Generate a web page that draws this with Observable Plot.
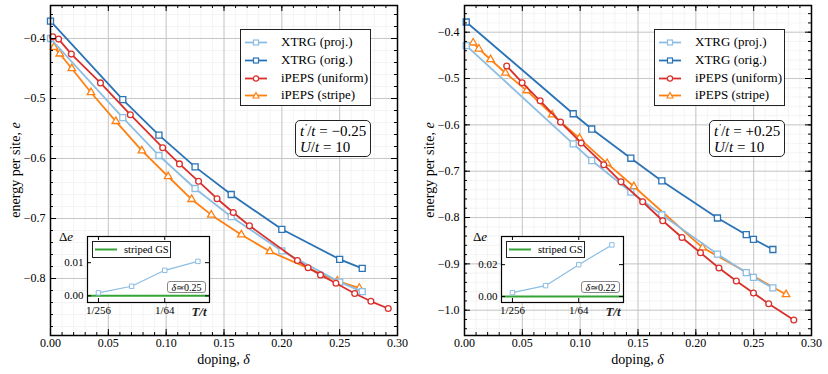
<!DOCTYPE html>
<html><head><meta charset="utf-8">
<script src="https://cdn.jsdelivr.net/npm/d3@7"></script>
<script src="https://cdn.jsdelivr.net/npm/@observablehq/plot@0.6"></script>
<style>
body{margin:0;background:white;}
#root{position:relative;width:828px;height:374px;font-family:"Liberation Serif",serif;color:black;overflow:hidden;}
.abs{position:absolute;}
.legend{position:absolute;background:white;border:1.3px solid #222;box-sizing:border-box;font-size:13px;}
.legend .row{position:absolute;left:0;height:18px;line-height:18px;white-space:nowrap;}
.legend svg{position:absolute;left:4px;top:4px;}
.legend span{position:absolute;left:40px;top:0;}
.note{position:absolute;background:white;border:1.3px solid #222;border-radius:5px;box-sizing:border-box;font-size:15px;line-height:16px;padding:2px 0 0 4px;white-space:nowrap;}
.ilegend{position:absolute;background:white;border:1px solid #222;box-sizing:border-box;font-size:10.5px;white-space:nowrap;}
.dbox{position:absolute;background:white;border:1px solid #888;border-radius:3px;box-sizing:border-box;font-size:10px;line-height:11px;text-align:center;white-space:nowrap;}
</style></head>
<body><div id="root"></div>
<script>
// ---------- data ----------
const colProj = "#8cbde3", colOrig = "#2b73b5", colUnif = "#d8302c", colStripe = "#ff8012", colGS = "#35a436";

const seriesNames = ["XTRG (proj.)", "XTRG (orig.)", "iPEPS (uniform)", "iPEPS (stripe)"];

// left panel t'/t = -0.25
const L_xtrg_x   = [0.0, 0.0625, 0.09375, 0.125, 0.15625, 0.2, 0.25, 0.2695];
const L_proj_e   = [-0.400, -0.532, -0.595, -0.650, -0.697, -0.754, -0.806, -0.822];
const L_orig_e   = [-0.371, -0.502, -0.561, -0.614, -0.660, -0.718, -0.768, -0.783];
const L_unif_x   = [0.002, 0.007, 0.018, 0.0432, 0.069, 0.097, 0.1115, 0.128, 0.144, 0.158, 0.172, 0.2135, 0.2227, 0.2334, 0.2468, 0.263, 0.277, 0.292];
const L_unif_e   = [-0.397, -0.401, -0.426, -0.474, -0.527, -0.582, -0.609, -0.638, -0.667, -0.690, -0.712, -0.770, -0.782, -0.794, -0.808, -0.825, -0.838, -0.850];
const L_stripe_x = [0.003, 0.008, 0.0184, 0.035, 0.0565, 0.079, 0.1017, 0.122, 0.139, 0.165, 0.1897, 0.248, 0.267];
const L_stripe_e = [-0.4145, -0.4255, -0.450, -0.490, -0.538, -0.587, -0.630, -0.668, -0.694, -0.727, -0.755, -0.804, -0.816];

// right panel t'/t = +0.25
const R_xtrg_x   = [0.0015, 0.094, 0.110, 0.1438, 0.1706, 0.2187, 0.2436, 0.2498, 0.2666];
const R_proj_e   = [-0.429, -0.641, -0.677, -0.745, -0.794, -0.879, -0.919, -0.929, -0.952];
const R_orig_e   = [-0.378, -0.576, -0.609, -0.672, -0.721, -0.801, -0.837, -0.847, -0.869];
const R_unif_x   = [0.0365, 0.0498, 0.0654, 0.083, 0.1009, 0.1204, 0.1353, 0.154, 0.1714, 0.188, 0.204, 0.2200, 0.235, 0.2498, 0.263, 0.2847];
const R_unif_e   = [-0.473, -0.509, -0.548, -0.594, -0.639, -0.686, -0.723, -0.766, -0.807, -0.843, -0.876, -0.909, -0.937, -0.963, -0.986, -1.021];
const R_stripe_x = [0.0075, 0.0124, 0.0225, 0.0354, 0.0539, 0.0758, 0.0994, 0.1233, 0.1464, 0.2058, 0.278];
const R_stripe_e = [-0.423, -0.436, -0.459, -0.488, -0.526, -0.578, -0.629, -0.683, -0.733, -0.865, -0.966];

// insets: energy difference vs temperature
const inset_T   = [1/256, 1/128, 1/64, 1/32];
const L_inset_de = [0.0009, 0.0029, 0.0077, 0.0104];
const R_inset_de = [0.0024, 0.0068, 0.0200, 0.0324];
const insetTickVals = [1/256, 1/64];
const insetTickLabels = ["1/256", "1/64"];

// tick labels / positions
const xMajor = [0, 0.05, 0.10, 0.15, 0.20, 0.25, 0.30];
const L_yMajor = [-0.8, -0.7, -0.6, -0.5, -0.4];
const R_yMajor = [-1.0, -0.9, -0.8, -0.7, -0.6, -0.5, -0.4];

// ---------- drawing ----------
const zip = (xs, ys) => xs.map((x, i) => ({x, e: ys[i]}));
const root = document.getElementById("root");

function panel(cfg) {
  const W = 414, H = 374, mt = 5, mb = 39, ml = 50, mr = 17;
  const iw = W - ml - mr, ih = H - mt - mb;
  const xMinor = d3.range(0, 0.3001, 0.01);
  const yMinor = d3.range(cfg.yMinorStart, cfg.yDomain[1], 0.02);
  const series = [
    {d: zip(cfg.stripeX, cfg.stripeE), c: colStripe, s: "triangle", r: 2.8},
    {d: zip(cfg.xtrgX, cfg.projE), c: colProj, s: "square", r: 3.4},
    {d: zip(cfg.xtrgX, cfg.origE), c: colOrig, s: "square", r: 3.4},
    {d: zip(cfg.unifX, cfg.unifE), c: colUnif, s: "circle", r: 2.9}
  ];
  const marks = [
    Plot.gridX(xMinor, {stroke: "#ececec", strokeOpacity: 1, strokeWidth: 0.6}),
    Plot.gridY(yMinor, {stroke: "#ececec", strokeOpacity: 1, strokeWidth: 0.6}),
    Plot.gridX(xMajor, {stroke: "#c2c2c2", strokeOpacity: 1, strokeWidth: 0.9}),
    Plot.gridY(cfg.yMajor, {stroke: "#c2c2c2", strokeOpacity: 1, strokeWidth: 0.9})
  ];
  for (const s of series) {
    marks.push(Plot.line(s.d, {x: "x", y: "e", stroke: s.c, strokeWidth: 1.8}));
    marks.push(Plot.dot(s.d, {x: "x", y: "e", symbol: s.s, r: s.r, stroke: s.c, fill: "white", strokeWidth: 1.3}));
  }
  const tk = {stroke: "black", strokeWidth: 1};
  marks.push(
    Plot.tickX(xMajor, {x: d => d, insetTop: ih - 6, ...tk}),
    Plot.tickX(xMajor, {x: d => d, insetBottom: ih - 6, ...tk}),
    Plot.tickX(xMinor, {x: d => d, insetTop: ih - 3, ...tk}),
    Plot.tickX(xMinor, {x: d => d, insetBottom: ih - 3, ...tk}),
    Plot.tickY(cfg.yMajor, {y: d => d, insetRight: iw - 6, ...tk}),
    Plot.tickY(cfg.yMajor, {y: d => d, insetLeft: iw - 6, ...tk}),
    Plot.tickY(yMinor, {y: d => d, insetRight: iw - 3, ...tk}),
    Plot.tickY(yMinor, {y: d => d, insetLeft: iw - 3, ...tk}),
    Plot.frame({stroke: "black", strokeWidth: 1.5}),
    Plot.axisX({ticks: xMajor, tickSize: 0, tickPadding: 3, tickFormat: d3.format(".2f"), label: null}),
    Plot.axisY({ticks: cfg.yMajor, tickSize: 0, tickPadding: 5, tickFormat: d3.format(".1f"), label: null})
  );
  const svg = Plot.plot({
    width: W, height: H, marginTop: mt, marginBottom: mb, marginLeft: ml, marginRight: mr,
    x: {domain: [0, 0.30]},
    y: {domain: cfg.yDomain},
    style: {fontFamily: "Liberation Serif", fontSize: "12px", color: "black", background: "white"},
    marks
  });
  const g = d3.select(svg);
  const xl = g.append("text").attr("x", ml + iw / 2).attr("y", 364).attr("text-anchor", "middle")
    .attr("font-size", 14).attr("fill", "black");
  xl.append("tspan").text("doping, ");
  xl.append("tspan").attr("font-style", "italic").text("δ");
  const yl = g.append("text").attr("transform", `translate(20,${mt + ih / 2}) rotate(-90)`).attr("text-anchor", "middle")
    .attr("font-size", 14).attr("fill", "black");
  yl.append("tspan").text("energy per site, ");
  yl.append("tspan").attr("font-style", "italic").text("e");
  const wrap = document.createElement("div");
  wrap.className = "abs";
  wrap.style.left = cfg.left + "px"; wrap.style.top = "0px";
  wrap.appendChild(svg);
  root.appendChild(wrap);
}

function inset(cfg) {
  const W = 190, H = 100, ml = 41, mr = 27, mt = 14, mb = 20;
  const data = inset_T.map((T, i) => ({T, de: cfg.de[i]}));
  const iw = W - ml - mr, ih = H - mt - mb;
  const tk = {stroke: "black", strokeWidth: 1};
  const svg = Plot.plot({
    width: W, height: H, marginTop: mt, marginBottom: mb, marginLeft: ml, marginRight: mr,
    x: {type: "log", base: 2, domain: [Math.pow(2, -8.33), Math.pow(2, -4.65)]},
    y: {domain: cfg.yDomain},
    style: {fontFamily: "Liberation Serif", fontSize: "11px", color: "black", background: "transparent"},
    marks: [
      Plot.frame({fill: "white"}),
      Plot.ruleY([0], {stroke: colGS, strokeWidth: 2}),
      Plot.line(data, {x: "T", y: "de", stroke: colProj, strokeWidth: 1.2}),
      Plot.dot(data, {x: "T", y: "de", symbol: "square", r: 2.5, stroke: colProj, fill: "white", strokeWidth: 1}),
      Plot.tickX(insetTickVals, {x: d => d, insetTop: ih - 4, ...tk}),
      Plot.tickX(insetTickVals, {x: d => d, insetBottom: ih - 4, ...tk}),
      Plot.tickY(cfg.yTicks, {y: d => d, insetRight: iw - 4, ...tk}),
      Plot.tickY(cfg.yTicks, {y: d => d, insetLeft: iw - 4, ...tk}),
      Plot.frame({stroke: "black", strokeWidth: 1.2}),
      Plot.axisX({ticks: insetTickVals, tickFormat: d => insetTickLabels[insetTickVals.indexOf(d)], tickSize: 0, tickPadding: 4, label: null}),
      Plot.axisY({ticks: cfg.yTicks, tickFormat: d3.format(".2f"), tickSize: 0, tickPadding: 4, label: null})
    ]
  });
  const g = d3.select(svg);
  const de = g.append("text").attr("x", 20).attr("y", 18.5).attr("font-size", 13).attr("fill", "black");
  de.append("tspan").text("Δ");
  de.append("tspan").attr("font-style", "italic").text("e");
  g.append("text").attr("x", 153).attr("y", 94).attr("font-size", 13).attr("font-style", "italic")
    .attr("font-weight", "bold").attr("fill", "#222").text("T/t");
  const wrap = document.createElement("div");
  wrap.className = "abs";
  wrap.style.left = (cfg.left + 46) + "px"; wrap.style.top = "222px";
  wrap.appendChild(svg);
  root.appendChild(wrap);

  // inset legend
  const il = document.createElement("div");
  il.className = "ilegend";
  Object.assign(il.style, {left: (cfg.left + 92) + "px", top: "241px", width: "79px", height: "17px"});
  il.innerHTML = `<svg width="24" height="15" style="position:absolute;left:2px;top:0px"><line x1="0" y1="7.5" x2="22" y2="7.5" stroke="${colGS}" stroke-width="2"/></svg>` +
    `<span style="position:absolute;left:31px;top:1px;line-height:13px">striped GS</span>`;
  root.appendChild(il);

  // delta box
  const db = document.createElement("div");
  db.className = "dbox";
  Object.assign(db.style, {left: (cfg.left + 167) + "px", top: "281px", width: "39px", height: "12px"});
  db.innerHTML = `<i>δ</i>≃${cfg.dlabel}`;
  root.appendChild(db);
}

function legend(left) {
  const el = document.createElement("div");
  el.className = "legend";
  Object.assign(el.style, {left: left + "px", top: "29px", width: "131px", height: "77px"});
  const items = [
    {c: colProj, s: "square"}, {c: colOrig, s: "square"}, {c: colUnif, s: "circle"}, {c: colStripe, s: "triangle"}
  ];
  let html = "";
  items.forEach((it, i) => {
    let m;
    if (it.s === "square") m = `<rect x="8.5" y="2" width="5" height="5" fill="white" stroke="${it.c}" stroke-width="1.2"/>`;
    else if (it.s === "circle") m = `<circle cx="11" cy="4.5" r="2.6" fill="white" stroke="${it.c}" stroke-width="1.2"/>`;
    else m = `<path d="M11,1.5L14,7L8,7Z" fill="white" stroke="${it.c}" stroke-width="1.2"/>`;
    html += `<div class="row" style="top:${3 + i * 17.8}px;width:100%">` +
      `<svg width="24" height="9" style="top:5px"><line x1="0" y1="4.5" x2="22" y2="4.5" stroke="${it.c}" stroke-width="1.8"/>${m}</svg>` +
      `<span>${seriesNames[i]}</span></div>`;
  });
  el.innerHTML = html;
  root.appendChild(el);
}

function note(left, tp) {
  const el = document.createElement("div");
  el.className = "note";
  Object.assign(el.style, {left: left + "px", top: "120px", width: "76px", height: "37px"});
  el.innerHTML = `<i>t</i><sup style="font-size:9px;margin-left:1px;vertical-align:6px;line-height:0">′</sup>/<i>t</i> = ${tp}<br><i>U</i>/<i>t</i> = 10`;
  root.appendChild(el);
}

panel({left: 0, xtrgX: L_xtrg_x, projE: L_proj_e, origE: L_orig_e, unifX: L_unif_x, unifE: L_unif_e,
  stripeX: L_stripe_x, stripeE: L_stripe_e, yDomain: [-0.895, -0.345], yMajor: L_yMajor, yMinorStart: -0.88});
panel({left: 414, xtrgX: R_xtrg_x, projE: R_proj_e, origE: R_orig_e, unifX: R_unif_x, unifE: R_unif_e,
  stripeX: R_stripe_x, stripeE: R_stripe_e, yDomain: [-1.0546, -0.3424], yMajor: R_yMajor, yMinorStart: -1.04});
legend(240); legend(654);
note(295, "−0.25"); note(709, "+0.25");
inset({left: 0, de: L_inset_de, yDomain: [-0.002, 0.0179], yTicks: [0, 0.01], dlabel: "0.25"});
inset({left: 414, de: R_inset_de, yDomain: [-0.0038, 0.0377], yTicks: [0, 0.02], dlabel: "0.22"});
</script>
</body></html>
